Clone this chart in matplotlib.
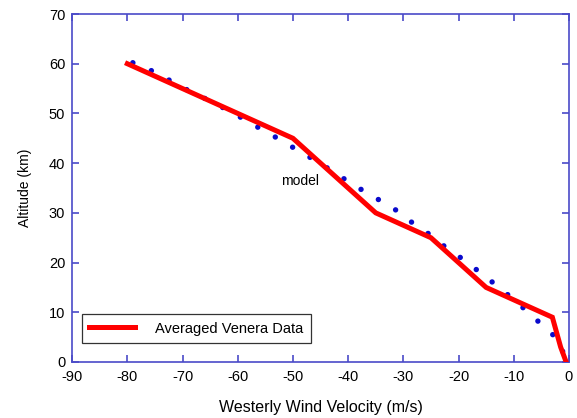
import matplotlib
matplotlib.use("Agg")
import matplotlib.pyplot as plt

# Averaged Venera data (m/s, km)
venera_wind = [-80, -50, -35, -25, -15, -3, -2, -1.5, -0.5]
venera_alt = [60, 45, 30, 25, 15, 9, 5, 3, 0]

# model profile
model_wind = [-79, -75, -70, -65, -61, -56, -52.3, -48.7, -45.4, -41.8, -38.4,
              -34.7, -31.1, -27.9, -24.2, -22.6, -19, -15.5, -12.1, -8.5, -5,
              -3.2, -1.6, -1.1, -0.5]
model_alt = [60.2, 58.3, 55.2, 52.5, 50.2, 47, 44.7, 42.3, 40.2, 37.6, 35.2,
             32.8, 30.4, 27.6, 24.9, 23.3, 20.5, 17.5, 14.5, 11.1, 7.6,
             5.8, 4, 2, 0]

xticks = list(range(-90, 1, 10))
yticks = list(range(0, 71, 10))

plt.rcParams["font.family"] = ["Liberation Sans", "DejaVu Sans"]
plt.rcParams["axes.unicode_minus"] = False
spine_color = "#4a4ac8"

fig = plt.figure(figsize=(5.77, 4.18), dpi=100)
ax = fig.add_axes([0.125, 0.134, 0.861, 0.8325])

ax.plot(model_wind, model_alt, color="#0a0acc", linewidth=3.9,
        linestyle=(0, (0.01, 3.7)), dash_capstyle="round", zorder=2)
ax.plot(venera_wind, venera_alt, color="#ff0000", linewidth=3.6,
        solid_joinstyle="miter", label="Averaged Venera Data", zorder=3)

ax.text(-48.7, 36.4, "model", ha="center", va="center", fontsize=10)

ax.set_xlim(-90, 0)
ax.set_ylim(0, 70)
ax.set_xticks(xticks)
ax.set_yticks(yticks)
ax.tick_params(direction="in", length=5, width=1.2, color=spine_color,
               top=True, right=True, labelsize=10.5)
ax.tick_params(axis="x", pad=6)
ax.tick_params(axis="y", pad=5)
for s in ax.spines.values():
    s.set_color(spine_color)
    s.set_linewidth(1.2)

ax.set_xlabel("Westerly Wind Velocity (m/s)", fontsize=11.5, labelpad=11)
ax.set_ylabel("Altitude (km)", fontsize=10, labelpad=12)

leg = ax.legend(loc="lower left", bbox_to_anchor=(0.02, 0.055), fontsize=10.5,
                frameon=True, fancybox=False, edgecolor="black",
                handlelength=3.1, handletextpad=1.4, borderpad=0.5,
                borderaxespad=0)
leg.get_frame().set_linewidth(0.9)

fig.savefig("out.png", dpi=100)
